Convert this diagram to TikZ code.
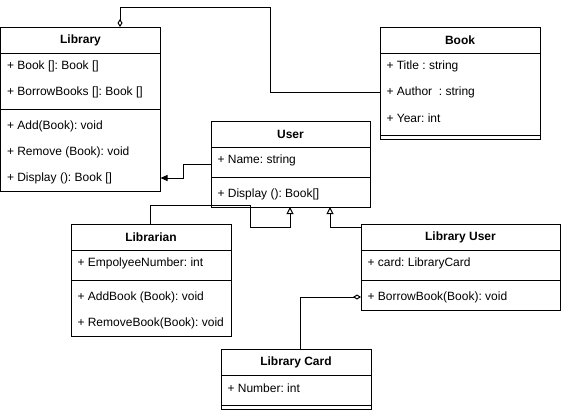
\documentclass[tikz,border=0pt]{standalone}
\usepackage{fontspec}
\setmainfont{Liberation Sans}
\usepackage{tikz}
\usetikzlibrary{arrows.meta}
\frenchspacing

\tikzset{
  head/.style={rectangle, draw=black, anchor=north west, minimum width=#1, minimum height=26pt, inner sep=0pt, outer sep=0pt, font=\fontsize{12pt}{14pt}\selectfont\bfseries},
  part/.style 2 args={rectangle, draw=black, anchor=north west, minimum width=#1, minimum height=#2, inner sep=0pt, outer sep=0pt},
  row/.style={anchor=west, inner sep=0pt, font=\fontsize{12pt}{14pt}\selectfont},
  aggr/.style={-{Diamond[open, length=8pt, width=5pt]}},
  gen/.style={-{Triangle[open, length=7pt, width=7pt]}},
  assoc/.style={-{Triangle[length=7pt, width=6pt]}}
}

\begin{document}
\begin{tikzpicture}[x=1pt, y=-1pt, line width=1pt]
				\useasboundingbox (0,0) rectangle (561,410);

				%%% LIBRARY
				\node[head=160] (libhead) at (0.5,27) {Library};
				\node[part={160}{56}] (libattr) at (libhead.south west) {};
				\node[part={160}{82}] (libops) at (libattr.south west) {};
				\node[row] (lib1) at (6.5,66.5) {+ Book []: Book []};
				\node[row] (lib2) at (6.5,92.5) {+ BorrowBooks []: Book []};
				\node[row] (lib3) at (6.5,126.5) {+ Add(Book): void};
				\node[row] (lib4) at (6.5,152.5) {+ Remove (Book): void};
				\node[row] (lib5) at (6.5,178.5) {+ Display (): Book []};

				%%% BOOK
				\node[head=160] (bookhead) at (380,27) {Book};
				\node[part={160}{82}] (bookattr) at (bookhead.south west) {};
				\node[part={160}{4}] (bookops) at (bookattr.south west) {};
				\node[row] (book1) at (386,66.5) {+ Title : string};
				\node[row] (book2) at (386,92.5) {+ Author~ : string};
				\node[row] (book3) at (386,118.5) {+ Year: int};

				%%% USER
				\node[head=159] (usrhead) at (211,121) {User};
				\node[part={159}{30}] (usrattr) at (usrhead.south west) {};
				\node[part={159}{30}] (usrops) at (usrattr.south west) {};
				\node[row] (usr1) at (217,160.5) {+ Name: string};
				\node[row] (usr2) at (217,194.5) {+ Display (): Book[]};

				%%% LIBRARIAN
				\node[head=160] (lnhead) at (71,224) {Librarian};
				\node[part={160}{30}] (lnattr) at (lnhead.south west) {};
				\node[part={160}{56}] (lnops) at (lnattr.south west) {};
				\node[row] (ln1) at (77,263.5) {+ EmpolyeeNumber: int};
				\node[row] (ln2) at (77,297.5) {+ AddBook (Book): void};
				\node[row] (ln3) at (77,323.5) {+ RemoveBook(Book): void};

				%%% LIBRARY USER
				\node[head=199] (luhead) at (361,224) {Library User};
				\node[part={199}{30}] (luattr) at (luhead.south west) {};
				\node[part={199}{30}] (luops) at (luattr.south west) {};
				\node[row] (lu1) at (367,263.5) {+ card: LibraryCard};
				\node[row] (lu2) at (367,297.5) {+ BorrowBook(Book): void};

				%%% LIBRARY CARD
				\node[head=150] (lchead) at (221,349) {Library Card};
				\node[part={150}{30}] (lcattr) at (lchead.south west) {};
				\node[part={150}{4}] (lcops) at (lcattr.south west) {};
				\node[row] (lc1) at (227,388.5) {+ Number: int};

				%%% CONEXIONES
				\draw[aggr] (bookattr.west |- 0,92) -| (270,7) -| (libhead.north -| 120,0);
				\draw[assoc] (usrattr.west |- 0,164) -| (183,178) -- (libops.east |- 0,178);
				\draw[gen] (lnhead.north -| 150,0) |- (250,205) |- (290,227) -- (usrops.south -| 290,0);
				\draw[gen] (luhead.west |- 0,227) -| (usrops.south -| 330,0);
				\draw[aggr] (lchead.north -| 300,0) |- (luops.west |- 0,297);
			\end{tikzpicture}
\end{document}
